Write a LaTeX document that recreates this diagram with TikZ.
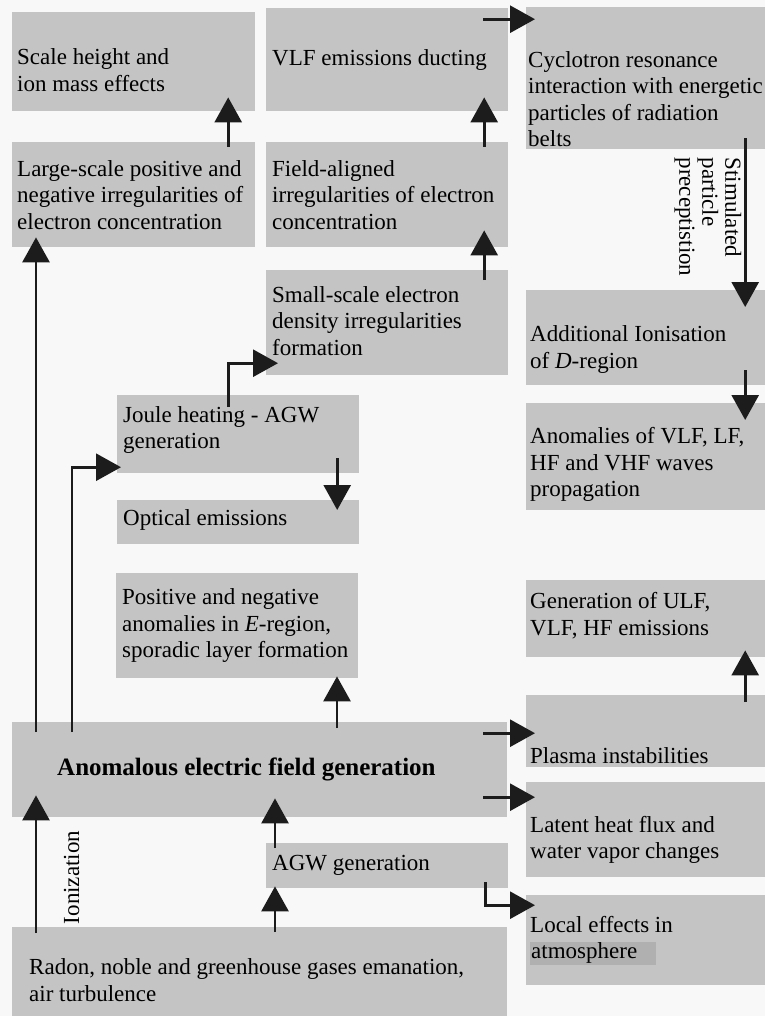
\documentclass[tikz,border=0pt]{standalone}
\usepackage{fontspec}
\setmainfont{Liberation Serif}
\usepackage{xcolor}
\usetikzlibrary{arrows.meta, positioning}

\definecolor{boxgray}{RGB}{196,196,196}
\definecolor{bggray}{RGB}{248,248,248}
\definecolor{hlgray}{RGB}{176,176,176}
\definecolor{arrowdark}{RGB}{28,28,28}
\setlength{\fboxsep}{1pt}

\begin{document}
\begin{tikzpicture}[
    x=1pt, y=-1pt,
    box/.style={rectangle, fill=boxgray, anchor=north west, inner sep=0pt},
    txt/.style={align=left, inner sep=0pt, font=\fontsize{23}{26.5}\selectfont},
    lbl/.style={align=left, inner sep=0pt, font=\fontsize{23}{23}\selectfont},
    arr/.style={-{Triangle[length=25pt, width=27pt]}, line width=2.8pt, draw=arrowdark},
]
    % Page
    \fill[bggray] (0,0) rectangle (765,1016);
    \useasboundingbox (0,0) rectangle (765,1016);

    % Top rows
    \node[box, minimum width=243pt, minimum height=99pt] (scale) at (12,12) {};
    \node[box, minimum width=242pt, minimum height=103pt] (vlf) at (266,8) {};
    \node[box, minimum width=239pt, minimum height=142pt] (cyclo) at (526,7) {};
    \node[box, minimum width=243pt, minimum height=105pt] (large) at (12,142) {};
    \node[box, minimum width=242pt, minimum height=105pt] (field) at (266,142) {};
    \node[box, minimum width=242pt, minimum height=105pt] (small) at (266,270) {};

    % Right column
    \node[box, minimum width=239pt, minimum height=95pt] (addion) at (526,290) {};
    \node[box, minimum width=239pt, minimum height=107pt] (anomvlf) at (526,403) {};
    \node[box, minimum width=239pt, minimum height=77pt] (genulf) at (526,580) {};
    \node[box, minimum width=239pt, minimum height=72pt] (plasma) at (526,695) {};
    \node[box, minimum width=239pt, minimum height=95pt] (latent) at (526,782) {};
    \node[box, minimum width=239pt, minimum height=90pt] (local) at (526,895) {};

    % Middle column
    \node[box, minimum width=242pt, minimum height=78pt] (joule) at (117,395) {};
    \node[box, minimum width=242pt, minimum height=44pt] (optical) at (117,500) {};
    \node[box, minimum width=242pt, minimum height=105pt] (posneg) at (116,573) {};

    % Bottom
    \node[box, minimum width=495pt, minimum height=95pt] (anomal) at (12,722) {};
    \node[box, minimum width=242pt, minimum height=45pt] (agw) at (266,843) {};
    \node[box, minimum width=495pt, minimum height=89pt] (radon) at (12,927) {};

    % Texts
    \node[txt, right=5pt of scale.west, yshift=-8.5pt] (scale-t) {Scale height and\\ion mass effects};
    \node[txt, right=6pt of vlf.west] (vlf-t) {VLF emissions ducting};
    \node[txt, right=2pt of cyclo.west, yshift=-21pt] (cyclo-t) {Cyclotron resonance\\interaction with energetic\\particles of radiation\\belts};
    \node[txt, right=5pt of large.west] (large-t) {Large-scale positive and\\negative irregularities of\\electron concentration};
    \node[txt, right=6pt of field.west] (field-t) {Field-aligned\\irregularities of electron\\concentration};
    \node[txt, right=6pt of small.west, yshift=2pt] (small-t) {Small-scale electron\\density irregularities\\formation};
    \node[txt, right=4pt of addion.west, yshift=-12pt] (addion-t) {Additional Ionisation\\of \textit{D}-region};
    \node[txt, right=4pt of anomvlf.west, yshift=-8pt] (anomvlf-t) {Anomalies of VLF, LF,\\HF and VHF waves\\propagation};
    \node[txt, right=6pt of joule.west, yshift=4pt] (joule-t) {Joule heating - AGW\\generation};
    \node[txt, right=6pt of optical.west, yshift=2pt] (optical-t) {Optical emissions};
    \node[txt, right=6pt of posneg.west] (posneg-t) {Positive and negative\\anomalies in \textit{E}-region,\\sporadic layer formation};
    \node[txt, right=4pt of genulf.west, yshift=3pt] (genulf-t) {Generation of ULF,\\VLF, HF emissions};
    \node[txt, right=4pt of plasma.west, yshift=-24pt] (plasma-t) {Plasma instabilities};
    \node[txt, right=4pt of latent.west, yshift=-10pt] (latent-t) {Latent heat flux and\\water vapor changes};
    \node[txt, right=4pt of local.west] (local-t) {Local effects in\\\colorbox{hlgray}{\makebox[124pt][l]{atmosphere}}};
    \node[txt, right=45pt of anomal.west, font=\bfseries\fontsize{25}{28}\selectfont] (anomal-t) {Anomalous electric field generation};
    \node[txt, right=6pt of agw.west] (agw-t) {AGW generation};
    \node[txt, right=17pt of radon.west, yshift=-8.5pt] (radon-t) {Radon, noble and greenhouse gases emanation,\\air turbulence};

    % Arrow labels
    \node[lbl, rotate=90] (ionlbl) at (71.5,877.5) {Ionization};
    \node[lbl, rotate=-90] (stimlbl) at (708,217) {Stimulated\\particle\\preceptistion};

    % --- Arrows ---
    \draw[arr] ([xshift=94.5pt,yshift=-5pt]large.north) -- ([xshift=94.5pt,yshift=14pt]scale.south);
    \draw[arr] ([xshift=97pt,yshift=-5pt]field.north) -- ([xshift=97pt,yshift=14pt]vlf.south);
    \draw[arr] ([xshift=97pt,yshift=-10pt]small.north) -- ([xshift=97pt,yshift=17pt]field.south);
    \draw[arr] ([xshift=-25pt,yshift=40.5pt]vlf.east) -- ([xshift=9pt,yshift=59pt]cyclo.west);

    % Right column
    \draw[arr] ([xshift=99.5pt,yshift=11pt]cyclo.south) -- ([xshift=99.5pt,yshift=-17pt]addion.north);
    \draw[arr] ([xshift=99.5pt,yshift=15pt]addion.south) -- ([xshift=99.5pt,yshift=-17pt]anomvlf.north);
    \draw[arr] ([xshift=99.5pt,yshift=-7pt]plasma.north) -- ([xshift=99.5pt,yshift=7pt]genulf.south);

    % From the electric field
    \draw[arr] ([xshift=-24pt,yshift=36.5pt]anomal.east) -- ([xshift=9pt,yshift=-2pt]plasma.west);
    \draw[arr] ([xshift=-24pt,yshift=-27.5pt]anomal.east) -- ([xshift=9pt,yshift=32.5pt]latent.west);
    \draw[arr] ([xshift=24pt,yshift=-10pt]anomal.north west) -- ([xshift=24pt,yshift=10pt]large.south west);
    \draw[arr] ([xshift=60pt,yshift=-10pt]anomal.north west) |- ([xshift=4pt,yshift=-33pt]joule.west);
    \draw[arr] ([xshift=325pt,yshift=-6pt]anomal.north west) -- ([xshift=221pt,yshift=2pt]posneg.south west);

    % Joule heating
    \draw[arr] ([xshift=-10pt,yshift=-12pt]joule.north) |- ([xshift=12pt,yshift=-40.5pt]small.west);
    \draw[arr] ([xshift=99pt,yshift=15pt]joule.south) -- ([xshift=99pt,yshift=-10pt]optical.north);

    % Bottom sources
    \draw[arr] ([xshift=24pt,yshift=-6pt]radon.north west) -- ([xshift=24pt,yshift=22pt]anomal.south west);
    \draw[arr] ([xshift=263pt,yshift=-5pt]radon.north west) -- ([xshift=9pt,yshift=2pt]agw.south west);
    \draw[arr] ([xshift=9pt,yshift=-5pt]agw.north west) -- ([xshift=263pt,yshift=19pt]anomal.south west);
    \draw[arr] ([xshift=98pt,yshift=6pt]agw.south) |- ([xshift=9pt,yshift=35pt]local.west);

\end{tikzpicture}
\end{document}
